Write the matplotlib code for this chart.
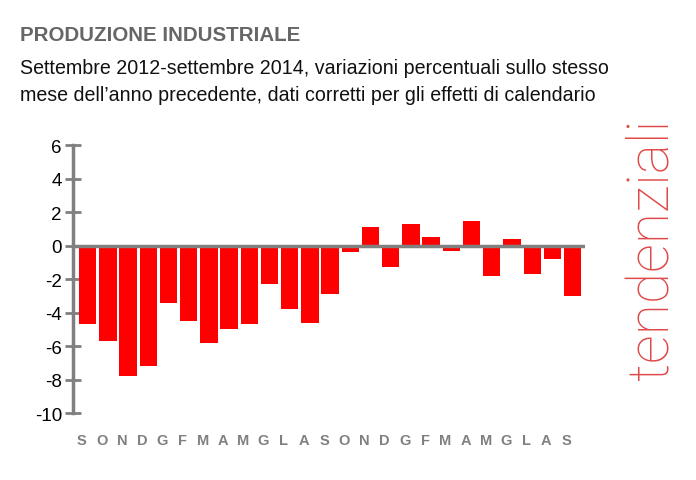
import matplotlib.pyplot as plt
import numpy as np

# mesi settembre 2012 - settembre 2014
mesi = ["S", "O", "N", "D", "G", "F", "M", "A", "M", "G", "L", "A",
        "S", "O", "N", "D", "G", "F", "M", "A", "M", "G", "L", "A", "S"]
variazioni = [-4.7, -5.7, -7.8, -7.2, -3.4, -4.5, -5.8, -5.0, -4.7, -2.3, -3.8, -4.6,
              -2.9, -0.4, 1.1, -1.3, 1.3, 0.5, -0.3, 1.5, -1.8, 0.4, -1.7, -0.8, -3.0]
yticks = [-10, -8, -6, -4, -2, 0, 2, 4, 6]

narrow = ["Liberation Sans Narrow", "Liberation Sans", "DejaVu Sans"]
grigio = "#808080"

fig = plt.figure(figsize=(6.96, 4.81), dpi=100)
ax = fig.add_axes([0.105, 0.139, 0.736, 0.557])

x = np.arange(len(mesi))
ax.bar(x, variazioni, width=0.86, color="#ff0000", zorder=2)
ax.axhline(0, color=grigio, lw=2.5, zorder=3)

ax.set_xlim(-0.72, 24.63)
ax.set_ylim(-10, 6)
ax.set_yticks(yticks)
ax.set_yticklabels([str(v) for v in yticks], family=["Liberation Sans", "DejaVu Sans"],
                   fontsize=13.5)
ax.tick_params(axis="y", direction="inout", length=12, width=2, color=grigio, pad=2)
ax.set_xticks(x - 0.3)
ax.set_xticklabels(mesi, family=["Liberation Sans", "DejaVu Sans"], fontsize=10.5,
                   fontweight="bold", color=grigio)
ax.tick_params(axis="x", length=0, pad=14)

for s in ["top", "right", "bottom"]:
    ax.spines[s].set_visible(False)
ax.spines["left"].set_color(grigio)
ax.spines["left"].set_linewidth(2.5)

fig.text(0.029, 0.927, "PRODUZIONE INDUSTRIALE", family=narrow, fontsize=14.8,
         fontweight="bold", color="#666666", va="center")
fig.text(0.029, 0.858, "Settembre 2012-settembre 2014, variazioni percentuali sullo stesso",
         family=narrow, fontsize=14.1, color="#111111", va="center")
fig.text(0.029, 0.802, "mese dell\u2019anno precedente, dati corretti per gli effetti di calendario",
         family=narrow, fontsize=14.1, color="#111111", va="center")

fig.text(0.938, 0.482, "tendenziali", family=["Roboto", "DejaVu Sans"], fontweight="ultralight",
         fontsize=41, color="#e04848", rotation=90, ha="center", va="center")

fig.savefig("out.png", dpi=100)
